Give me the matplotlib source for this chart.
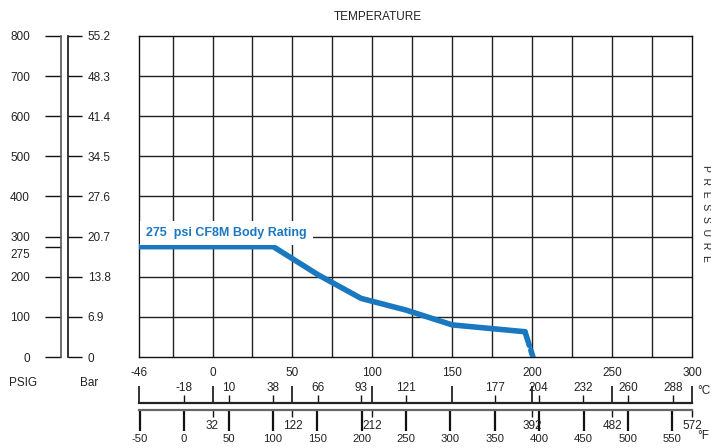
import numpy as np
import matplotlib
matplotlib.use("Agg")
import matplotlib.pyplot as plt

plt.rcParams['font.family'] = ['Liberation Sans', 'DejaVu Sans']

# ---------------- data ----------------
temp_c = [-46, 38, 66, 93, 121, 150, 195.5]
psig = [275, 275, 205, 146, 117, 80, 63]
temp_c_drop = [195.5, 200.5]
psig_drop = [63, 0]
rating_label = "275  psi CF8M Body Rating"

psig_ticks = [0, 100, 200, 275, 300, 400, 500, 600, 700, 800]
psig_tick_labels = ['0', '100', '200', '', '300', '400', '500', '600', '700', '800']
bar_ticks = [0, 6.9, 13.8, 20.7, 27.6, 34.5, 41.4, 48.3, 55.2]
bar_tick_labels = ['0', '6.9', '13.8', '20.7', '27.6', '34.5', '41.4', '48.3', '55.2']

c_major = [-46, 0, 50, 100, 150, 200, 250, 300]
c_minor = [-18, 10, 38, 66, 93, 121, 177, 204, 232, 260, 288]
f_major = [-50, 0, 50, 100, 150, 200, 250, 300, 350, 400, 450, 500, 550]
f_minor = [32, 122, 212, 392, 482, 572]

W, H = 711, 448
fig = plt.figure(figsize=(W / 100, H / 100), dpi=100)
fig.patch.set_facecolor('white')

def fx(x):
    return x / W

def fy(y):
    return 1 - y / H

PT = 0.72  # points per pixel
TXT = '#222222'
BLUE = '#1a78c0'
FS = 8.5

# ---------------- main grid ----------------
L, R, T, B = 139, 692, 36, 357
ax = fig.add_axes([fx(L), fy(B), (R - L) / W, (B - T) / H])
ax.set_xlim(-46, 300)
ax.set_ylim(0, 800)
ax.set_xticks(np.arange(-25, 300, 25))
ax.set_yticks(np.arange(100, 800, 100))
ax.tick_params(length=0, labelbottom=False, labelleft=False)
ax.grid(True, color='#222222', linewidth=1.0)
for s in ax.spines.values():
    s.set_color('#111111')
    s.set_linewidth(1.0)

ax.plot(temp_c, psig, color=BLUE, linewidth=4.0, solid_joinstyle='round',
        solid_capstyle='round', zorder=3)
ax.plot(temp_c_drop, psig_drop, color=BLUE, linewidth=4.0, linestyle=(0, (2.6, 0.9)),
        dash_capstyle='round', zorder=3)
ax.text(-41.5, 309, rating_label, color=BLUE, fontsize=9, fontweight='bold',
        ha='left', va='center', zorder=4,
        bbox=dict(facecolor='white', edgecolor='none', pad=4.5))

fig.text(fx(378), fy(17), 'TEMPERATURE', ha='center', va='center', fontsize=FS, color=TXT)
fig.text(fx(706), fy(213), 'P  R  E  S  S  U  R  E', rotation=-90, ha='center',
         va='center', fontsize=7.5, color=TXT)

# ---------------- PSIG axis ----------------
axp = fig.add_axes([fx(61), fy(B), 1e-4, (B - T) / H])
axp.set_ylim(0, 800)
axp.set_xticks([])
for k, s in axp.spines.items():
    s.set_visible(k == 'left')
axp.spines['left'].set_color('#555555')
axp.spines['left'].set_linewidth(1.2)
axp.set_yticks(psig_ticks, labels=psig_tick_labels)
axp.tick_params(axis='y', direction='out', length=16 * PT, width=1.0, pad=15 * PT,
                labelsize=FS, labelcolor=TXT, color='#111111')
axp.patch.set_visible(False)
axp.annotate('275', xy=(0, 275), xycoords=('axes fraction', 'data'),
             xytext=(-31 * PT, -8 * PT), textcoords='offset points',
             ha='right', va='center', fontsize=FS, color=TXT)

# ---------------- Bar axis ----------------
axb = fig.add_axes([fx(67.7), fy(B), 1e-4, (B - T) / H])
axb.set_ylim(0, 55.2)
axb.set_xticks([])
for k, s in axb.spines.items():
    s.set_visible(k == 'right')
axb.spines['right'].set_color('#111111')
axb.spines['right'].set_linewidth(1.2)
axb.yaxis.set_ticks_position('right')
axb.set_yticks(bar_ticks, labels=bar_tick_labels)
axb.tick_params(axis='y', direction='out', length=14 * PT, width=1.0, pad=6 * PT,
                labelsize=FS, labelcolor=TXT, color='#111111')
axb.patch.set_visible(False)

fig.text(fx(23), fy(383), 'PSIG', ha='center', va='center', fontsize=FS, color=TXT)
fig.text(fx(89), fy(383), 'Bar', ha='center', va='center', fontsize=FS, color=TXT)

# ---------------- Celsius scale ----------------
axc = fig.add_axes([fx(L), fy(403), (R - L) / W, 1e-4])
axc.set_xlim(-46, 300)
axc.set_yticks([])
for k, s in axc.spines.items():
    s.set_visible(k == 'top')
axc.spines['top'].set_color('#222222')
axc.spines['top'].set_linewidth(1.6)
axc.xaxis.set_ticks_position('top')
axc.set_xticks(c_major, labels=[str(v) for v in c_major])
axc.set_xticks(c_minor, labels=[str(v) for v in c_minor], minor=True)
axc.tick_params(axis='x', which='major', direction='out', length=17 * PT, width=1.2,
                pad=6.5 * PT, labelsize=FS, labelcolor=TXT, color='#111111',
                top=True, bottom=False, labeltop=True, labelbottom=False)
axc.tick_params(axis='x', which='minor', direction='out', length=8 * PT, width=1.0,
                pad=0.5 * PT, labelsize=FS, labelcolor=TXT, color='#111111',
                top=True, bottom=False, labeltop=True, labelbottom=False)
axc.patch.set_visible(False)
fig.text(fx(697), fy(391), '°C', ha='left', va='center', fontsize=8.5, color=TXT)

# ---------------- Fahrenheit scale ----------------
axf = fig.add_axes([fx(L), fy(410), (R - L) / W, 1e-4])
axf.set_xlim(-46 * 9 / 5 + 32, 300 * 9 / 5 + 32)
axf.set_yticks([])
for k, s in axf.spines.items():
    s.set_visible(k == 'bottom')
axf.spines['bottom'].set_color('#666666')
axf.spines['bottom'].set_linewidth(1.6)
axf.set_xticks(f_major, labels=[str(v) for v in f_major])
axf.set_xticks(f_minor, labels=[str(v) for v in f_minor], minor=True)
axf.tick_params(axis='x', which='major', direction='out', length=21 * PT, width=1.6,
                pad=3 * PT, labelsize=8.2, labelcolor=TXT, color='#111111')
axf.tick_params(axis='x', which='minor', direction='out', length=7 * PT, width=1.0,
                pad=2.5 * PT, labelsize=FS, labelcolor=TXT, color='#111111')
axf.patch.set_visible(False)
fig.text(fx(697), fy(436), '°F', ha='left', va='center', fontsize=8.5, color=TXT)

fig.savefig('out.png', dpi=100, facecolor='white')
